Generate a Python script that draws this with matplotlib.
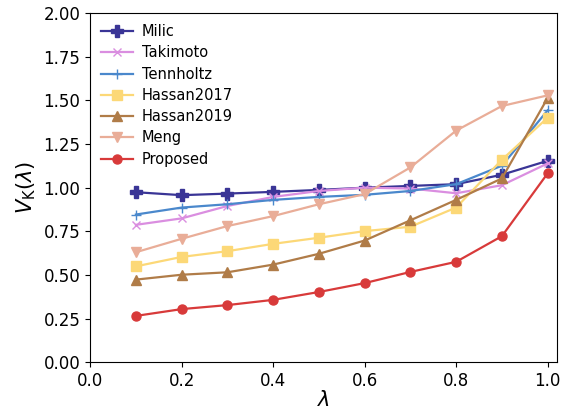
import matplotlib
matplotlib.use("Agg")
import matplotlib.pyplot as plt

lam = [0.1, 0.2, 0.3, 0.4, 0.5, 0.6, 0.7, 0.8, 0.9, 1.0]
milic = [0.974, 0.957, 0.966, 0.976, 0.987, 1.0, 1.01, 1.02, 1.074, 1.154]
takimoto = [0.787, 0.824, 0.895, 0.947, 0.981, 1.0, 0.995, 0.968, 1.014, 1.139]
tennholtz = [0.846, 0.886, 0.905, 0.930, 0.947, 0.959, 0.981, 1.02, 1.126, 1.443]
hassan2017 = [0.549, 0.603, 0.636, 0.678, 0.713, 0.751, 0.776, 0.886, 1.160, 1.401]
hassan2019 = [0.473, 0.501, 0.515, 0.559, 0.621, 0.697, 0.813, 0.930, 1.053, 1.514]
meng = [0.630, 0.707, 0.780, 0.837, 0.905, 0.963, 1.116, 1.327, 1.468, 1.529]
proposed = [0.265, 0.304, 0.327, 0.357, 0.402, 0.453, 0.517, 0.575, 0.722, 1.082]

series = [
    ("Milic", milic, "#3A3596", "P", 9),
    ("Takimoto", takimoto, "#DA8EE0", "x", 6),
    ("Tennholtz", tennholtz, "#4A88CC", "+", 7),
    ("Hassan2017", hassan2017, "#FCD877", "s", 6.5),
    ("Hassan2019", hassan2019, "#B07C48", "^", 6.5),
    ("Meng", meng, "#E9AD98", "v", 7),
    ("Proposed", proposed, "#D83A3A", "o", 6.5),
]

fig = plt.figure(figsize=(5.67, 4.12), dpi=100)
ax = fig.add_axes([0.159, 0.121, 0.823, 0.847])
for name, vals, col, mk, ms in series:
    ax.plot(lam, vals, color=col, marker=mk, markersize=ms, linewidth=1.6, label=name)

ax.set_xlim(0, 1.02)
ax.set_ylim(0, 2.0)
ax.set_xticks([0.0, 0.2, 0.4, 0.6, 0.8, 1.0])
ax.set_yticks([0, 0.25, 0.5, 0.75, 1.0, 1.25, 1.5, 1.75, 2.0])
ax.set_yticklabels(["0.00", "0.25", "0.50", "0.75", "1.00", "1.25", "1.50", "1.75", "2.00"])
ax.tick_params(labelsize=12)
ax.set_xlabel(r"$\lambda$", fontsize=15, labelpad=0)
ax.set_ylabel(r"$V_{\rm K}(\lambda)$", fontsize=15)
ax.legend(loc="upper left", frameon=False, fontsize=10.5, borderaxespad=0.3,
          handlelength=2.2, borderpad=0.45, labelspacing=0.43, handletextpad=0.6)
fig.savefig("out.png", dpi=100)
